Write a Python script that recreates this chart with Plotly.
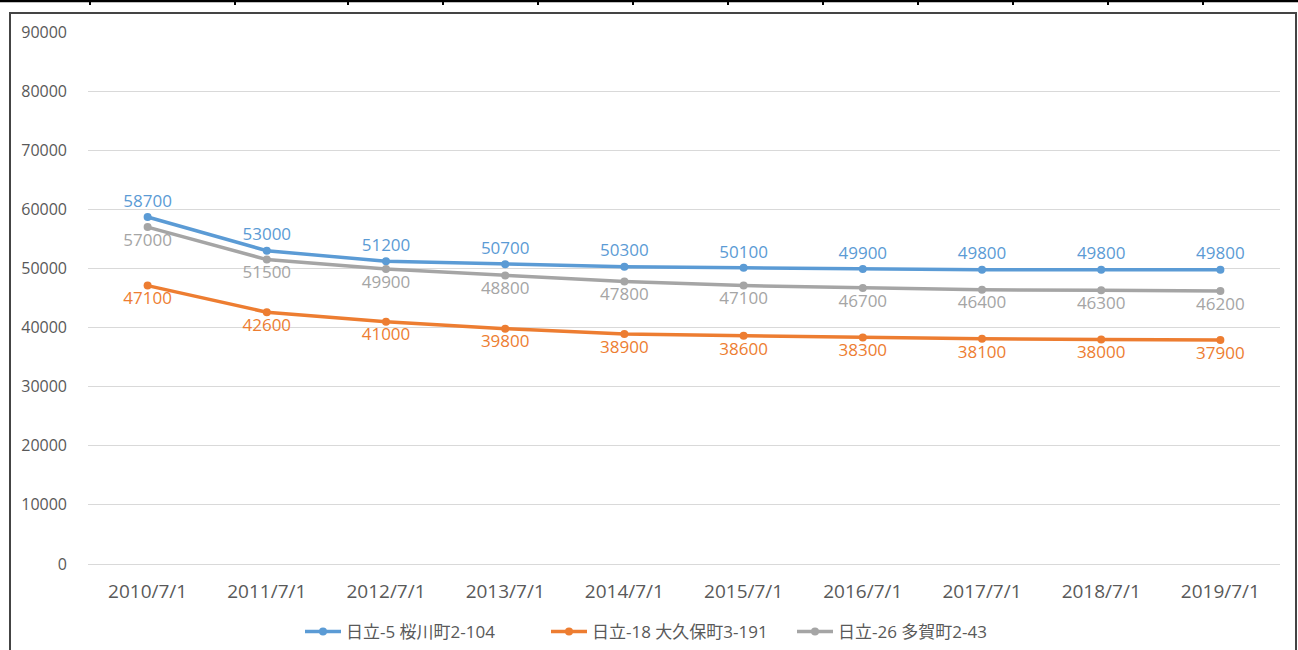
import plotly.graph_objects as go

dates = ["2010/7/1", "2011/7/1", "2012/7/1", "2013/7/1", "2014/7/1",
         "2015/7/1", "2016/7/1", "2017/7/1", "2018/7/1", "2019/7/1"]
sakuragawa = [58700, 53000, 51200, 50700, 50300, 50100, 49900, 49800, 49800, 49800]
okubo = [47100, 42600, 41000, 39800, 38900, 38600, 38300, 38100, 38000, 37900]
taga = [57000, 51500, 49900, 48800, 47800, 47100, 46700, 46400, 46300, 46200]
names = ["日立-5 桜川町2-104", "日立-18 大久保町3-191", "日立-26 多賀町2-43"]
colors = ["#5B9BD5", "#ED7D31", "#A5A5A5"]
label_pos = ["top center", "bottom center", "bottom center"]
table_ticks = [90, 235, 348, 443, 538, 633, 728, 823, 918, 1013, 1108, 1203]

W, H = 1298, 650
L, R, T, B = 88, 18, 32, 86
pw, ph = W - L - R, H - T - B

def px(x):
    return (x - L) / pw

def py(y):
    return (H - B - y) / ph

FONT = "Open Sans, Noto Sans CJK JP, sans-serif"

fig = go.Figure()
for series, name, color, pos in zip([sakuragawa, okubo, taga], names, colors, label_pos):
    fig.add_trace(go.Scatter(
        x=dates, y=series, name=name, mode="lines+markers+text",
        line=dict(color=color, width=3.5),
        marker=dict(color=color, size=8),
        text=[str(v) for v in series], textposition=pos,
        textfont=dict(color=color, size=17, family=FONT),
        cliponaxis=False,
    ))

shapes = []
# table border at top
shapes.append(dict(type="line", xref="paper", yref="paper", x0=px(0), x1=px(W),
                   y0=py(1), y1=py(1), line=dict(color="black", width=2.5)))
for t in table_ticks:
    shapes.append(dict(type="line", xref="paper", yref="paper", x0=px(t), x1=px(t),
                       y0=py(0), y1=py(5), line=dict(color="black", width=2)))
# chart frame
shapes.append(dict(type="rect", xref="paper", yref="paper", x0=px(10), x1=px(1296),
                   y0=py(13), y1=py(H + 5), line=dict(color="#444444", width=2),
                   fillcolor="rgba(0,0,0,0)"))

fig.update_layout(
    width=W, height=H,
    margin=dict(l=L, r=R, t=T, b=B, autoexpand=False),
    paper_bgcolor="white", plot_bgcolor="white",
    font=dict(family=FONT, size=16, color="#595959"),
    showlegend=True,
    legend=dict(orientation="h", xref="container", yref="container",
                x=669 / W, xanchor="center", y=1 - 632 / H, yanchor="middle",
                font=dict(size=17, color="#595959"), itemwidth=36, tracegroupgap=0,
                entrywidth=195, entrywidthmode="pixels"),
    shapes=shapes,
)
fig.update_xaxes(type="category", showgrid=False, showline=False, ticks="",
                 tickfont=dict(size=19, color="#595959"), range=[-0.5, 9.5], ticklabelstandoff=14)
fig.update_yaxes(range=[0, 90000], dtick=10000, tickformat="d", showgrid=True, gridcolor="#D9D9D9",
                 gridwidth=1, zeroline=True, zerolinecolor="#D9D9D9", zerolinewidth=1,
                 tickfont=dict(size=16, color="#595959"), showline=False, ticks="",
                 ticklabelstandoff=20)

fig.write_html("out.html", config={"displayModeBar": False},
               post_script="document.body.style.margin='0';")
